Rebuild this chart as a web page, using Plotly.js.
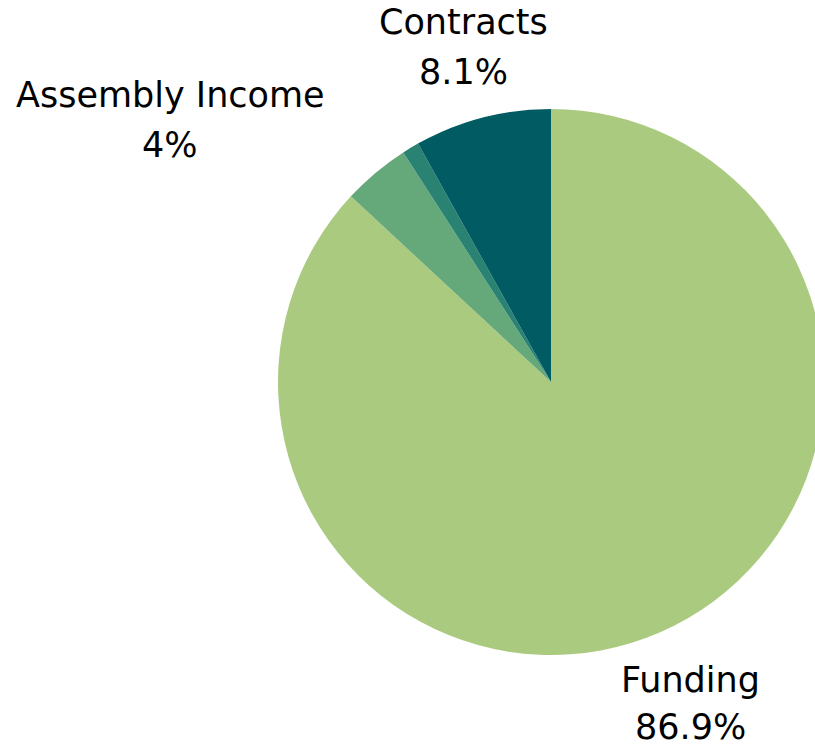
<!DOCTYPE html>
<html>
<head>
<meta charset="utf-8">
<script src="https://cdn.plot.ly/plotly-3.0.1.min.js"></script>
<style>
html, body { margin: 0; padding: 0; overflow: hidden; background: #fff; }
#chart { width: 900px; height: 746px; }
</style>
</head>
<body>
<div id="chart"></div>
<script>
const labels = ["Funding", "Assembly Income", "Other", "Contracts"];
const values = [86.9, 4, 1, 8.1];
const colors = ["#AACB7F", "#65A97A", "#2A8272", "#005C62"];
const shownLabels = ["Funding", "Assembly Income", "Contracts"];

const W = 900, H = 746;
// label anchor positions in pixels (centre x, name line centre y, percent line centre y)
const labelPos = {
  "Funding": [690, 680, 727],
  "Assembly Income": [170, 95, 145],
  "Contracts": [463, 22, 72]
};

const annotations = [];
shownLabels.forEach(name => {
  const i = labels.indexOf(name);
  const p = labelPos[name];
  annotations.push({
    text: name, x: p[0] / W, y: 1 - p[1] / H, xref: "paper", yref: "paper",
    showarrow: false, xanchor: "center", yanchor: "middle",
    font: { family: "DejaVu Sans", size: 35, color: "#000" }
  });
  annotations.push({
    text: values[i] + "%", x: p[0] / W, y: 1 - p[2] / H, xref: "paper", yref: "paper",
    showarrow: false, xanchor: "center", yanchor: "middle",
    font: { family: "DejaVu Sans", size: 35, color: "#000" }
  });
});

const cx = 551, cy = 382, r = 273;
const trace = {
  type: "pie",
  labels: labels,
  values: values,
  sort: false,
  direction: "clockwise",
  rotation: 0,
  textinfo: "none",
  hoverinfo: "label+percent",
  marker: { colors: colors, line: { width: 0 } },
  domain: { x: [(cx - r) / W, (cx + r) / W], y: [1 - (cy + r) / H, 1 - (cy - r) / H] }
};

Plotly.newPlot("chart", [trace], {
  width: W, height: H,
  margin: { l: 0, r: 0, t: 0, b: 0 },
  showlegend: false,
  paper_bgcolor: "#fff",
  annotations: annotations
}, { displayModeBar: false, staticPlot: true });
</script>
</body>
</html>
